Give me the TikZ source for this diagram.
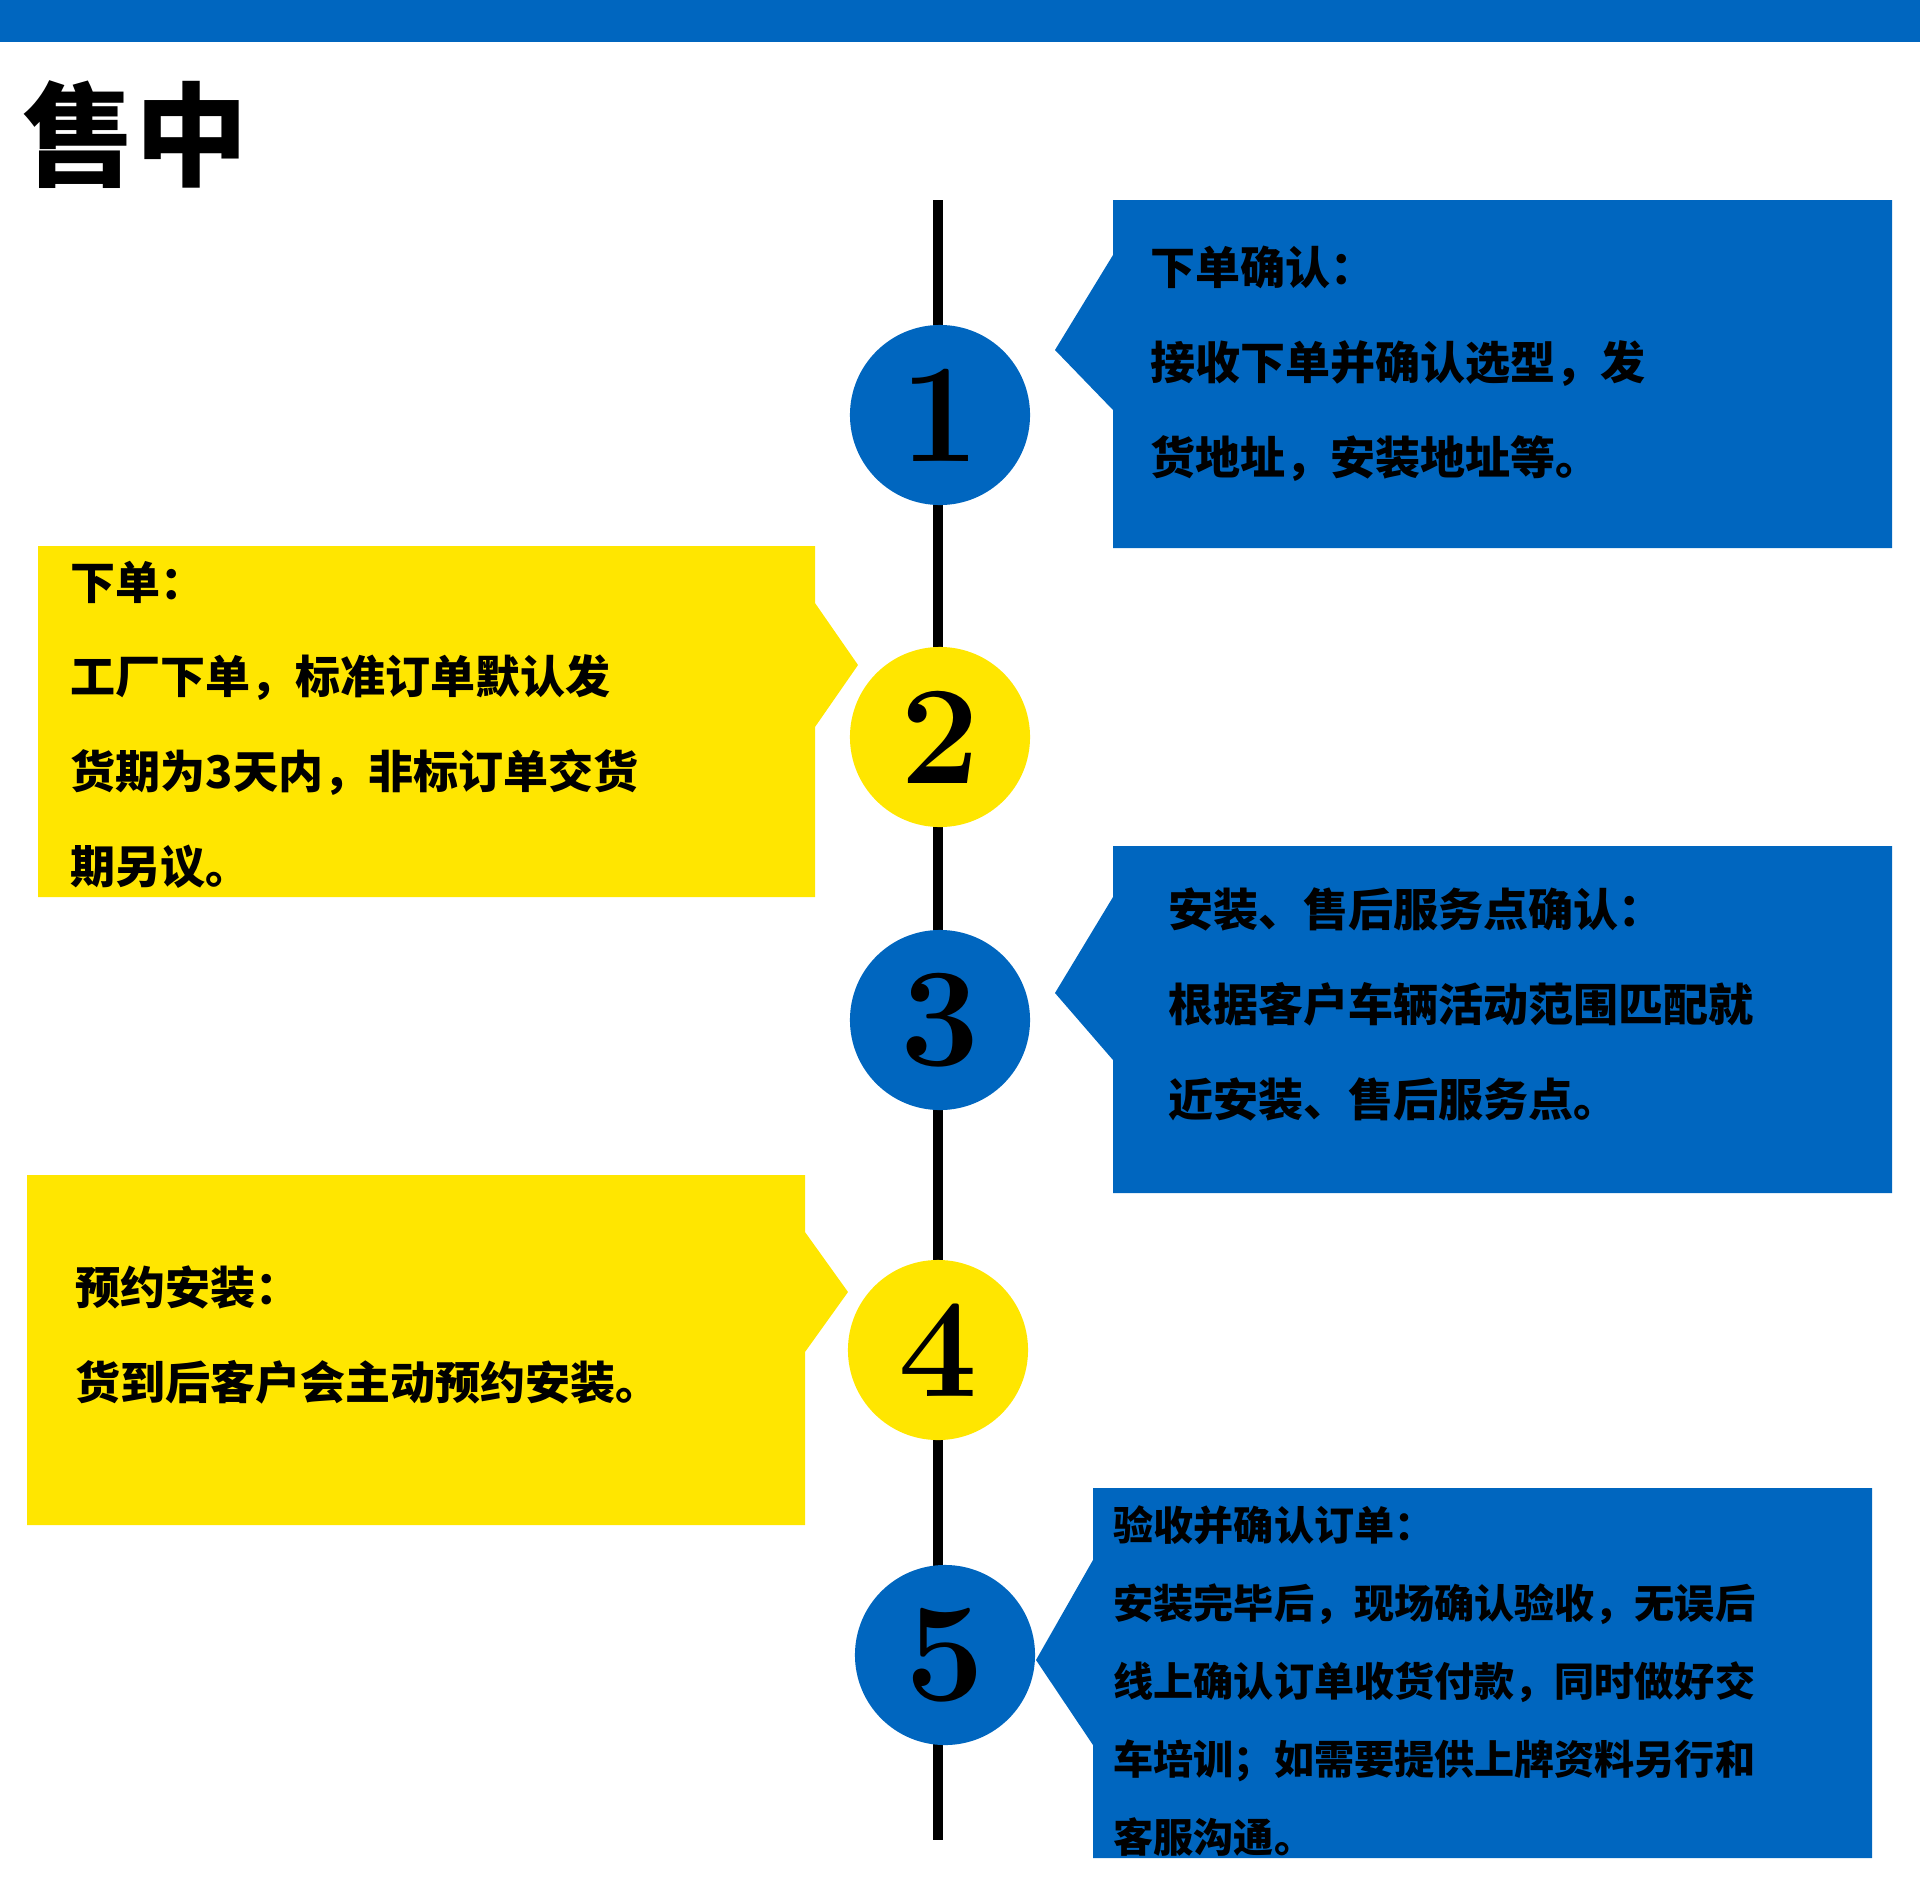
\documentclass[tikz,border=0pt]{standalone}
\usepackage{fontspec}
\newfontfamily\cjk{Noto Sans CJK SC}
\usetikzlibrary{positioning}
\definecolor{stepblue}{HTML}{0066BF}
\definecolor{stepyellow}{HTML}{FFE600}
\begin{document}
\begin{tikzpicture}[
        x=0.01cm, y=-0.01cm,
        stepdot/.style={
                circle,
                minimum size=1.8cm,
                inner sep=0pt,
                font=\fontsize{40}{40}\selectfont\bfseries
            },
        boxtext/.style={
                anchor=north west,
                inner sep=0pt,
                align=left,
                font=\cjk\bfseries\fontsize{12.8}{27}\selectfont
            },
        smalltext/.style={
                boxtext,
                font=\cjk\bfseries\fontsize{11.4}{22.2}\selectfont
            }
    ]
    \useasboundingbox (0,0) rectangle (1920,1896);

    % top bar and title
    \fill[stepblue] (0,0) rectangle (1920,42);
    \node[anchor=north west, inner sep=0pt, font=\cjk\bfseries\fontsize{32}{32}\selectfont] (title) at (22,80) {售中};

    % time line
    \coordinate (top) at (938,200);
    \coordinate (bottom) at (938,1840);
    \draw[line width=3pt] (top) -- (bottom);

    % callout boxes
    \fill[stepblue] (1113,200) -- (1892,200) -- (1892,548) -- (1113,548) -- (1113,410) -- (1055,350) -- (1113,255) -- cycle;
    \fill[stepyellow] (38,546) -- (815,546) -- (815,603) -- (858,665) -- (815,727) -- (815,897) -- (38,897) -- cycle;
    \fill[stepblue] (1113,846) -- (1892,846) -- (1892,1193) -- (1113,1193) -- (1113,1060) -- (1055,993) -- (1113,897) -- cycle;
    \fill[stepyellow] (27,1175) -- (805,1175) -- (805,1232) -- (848,1292) -- (805,1352) -- (805,1525) -- (27,1525) -- cycle;
    \fill[stepblue] (1093,1488) -- (1872,1488) -- (1872,1858) -- (1093,1858) -- (1093,1745) -- (1036,1660) -- (1093,1560) -- cycle;

    % steps
    \node[stepdot, fill=stepblue] (s1) at (940,415) {1};
    \node[stepdot, fill=stepyellow] (s2) at (940,737) {2};
    \node[stepdot, fill=stepblue] (s3) at (940,1020) {3};
    \node[stepdot, fill=stepyellow] (s4) at (938,1350) {4};
    \node[stepdot, fill=stepblue] (s5) at (945,1655) {5};

    % texts
    \node[boxtext] (t1) at (1150,245) {下单确认：\\接收下单并确认选型，发\\货地址，安装地址等。};
    \node[boxtext] (t2) at (70,560) {下单：\\工厂下单，标准订单默认发\\货期为3天内，非标订单交货\\期另议。};
    \node[boxtext] (t3) at (1168,887) {安装、售后服务点确认：\\根据客户车辆活动范围匹配就\\近安装、售后服务点。};
    \node[boxtext] (t4) at (75,1265) {预约安装：\\货到后客户会主动预约安装。};
    \node[smalltext] (t5) at (1113,1505) {验收并确认订单：\\安装完毕后，现场确认验收，无误后\\线上确认订单收货付款，同时做好交\\车培训；如需要提供上牌资料另行和\\客服沟通。};
\end{tikzpicture}
\end{document}
